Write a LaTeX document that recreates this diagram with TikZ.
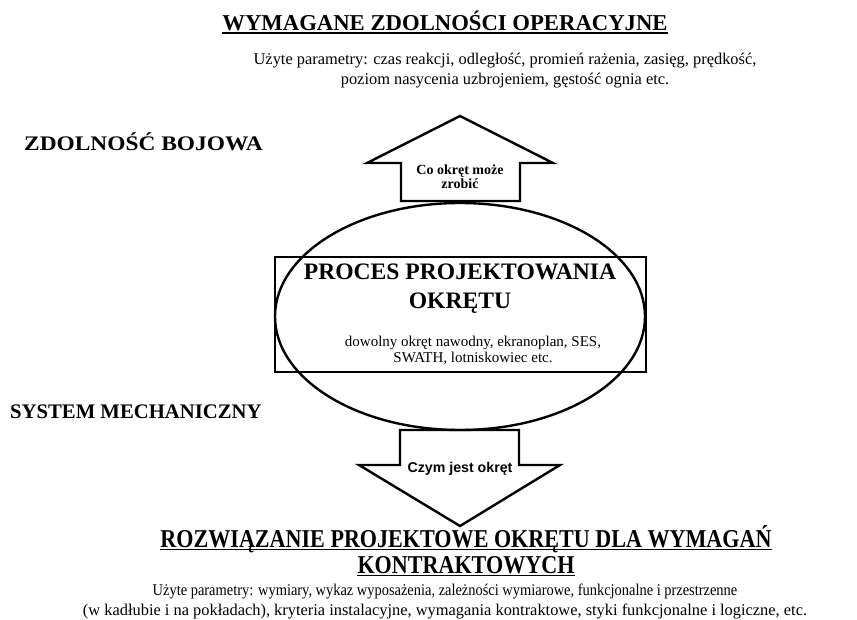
\documentclass[tikz,border=0pt]{standalone}
\usepackage{fontspec}
\setmainfont{Liberation Serif}
\newfontfamily\arialf{Liberation Sans}
\usetikzlibrary{shapes.geometric}
\begin{document}
\begin{tikzpicture}[x=1pt,y=-1pt,
  shape line/.style={line width=2.4pt, line join=miter},
  under line/.style={line width=1.3pt},
  big title/.style={font=\fontsize{22.7}{27}\selectfont\bfseries, anchor=base, inner sep=0pt},
  bottom title/.style={font=\fontsize{25.7}{27}\selectfont\bfseries, anchor=base, inner sep=0pt},
  side title/.style={font=\fontsize{20.7}{22}\selectfont\bfseries, anchor=base west, inner sep=0pt},
  small text/.style={font=\fontsize{16.4}{20}\selectfont, align=center},
  arrow label/.style={font=\fontsize{14}{14.5}\selectfont\bfseries, align=center}]
\useasboundingbox (0,0) rectangle (857,619);
% frame shapes
\node[draw, shape line, minimum width=371pt, minimum height=115pt, inner sep=0pt] (box) at (460.5,314.5) {};
\node[draw, shape line, ellipse, minimum width=370pt, minimum height=227pt, inner sep=0pt] (ell) at (460,316.5) {};
% up arrow
\draw[shape line] (401,201) -- (401,163) -- (367,163) -- (460,116) -- (553,163) -- (520,163) -- (520,201) -- cycle;
% down arrow
\draw[shape line] (400,430) -- (519,430) -- (519,465) -- (560,465) -- (460,526) -- (359,465) -- (400,465) -- cycle;
% texts
\node[big title] (t1) at (445,30) {WYMAGANE ZDOLNOŚCI OPERACYJNE};
\draw[under line] ([yshift=-3pt]t1.base west) -- ([yshift=-3pt]t1.base east);
\node[small text] (p1) at (505,71) {Użyte parametry: czas reakcji, odległość, promień rażenia, zasięg, prędkość,\\poziom nasycenia uzbrojeniem, gęstość ognia etc.};
\node[side title] (zb) at (24,150) {\scalebox{1.13}[1]{ZDOLNOŚĆ BOJOWA}};
\node[side title] (sm) at (10,418) {SYSTEM MECHANICZNY};
\node[arrow label] (up) at (460,176.5) {Co okręt może\\zrobić};
\node[font=\arialf\fontsize{14.2}{16}\selectfont\bfseries] (dn) at (460,469) {Czym jest okręt};
\node[font=\fontsize{23.6}{29}\selectfont\bfseries, align=center] (proc) at (460,289) {PROCES PROJEKTOWANIA\\OKRĘTU};
\node[font=\fontsize{15}{16}\selectfont, align=center] (dow) at (473,350) {dowolny okręt nawodny, ekranoplan, SES,\\SWATH, lotniskowiec etc.};
\node[bottom title] (t2a) at (466,547) {\scalebox{0.86}[1]{ROZWIĄZANIE PROJEKTOWE OKRĘTU DLA WYMAGAŃ}};
\draw[under line] ([yshift=-2.5pt]t2a.base west) -- ([yshift=-2.5pt]t2a.base east);
\node[bottom title] (t2b) at (466,573) {\scalebox{0.86}[1]{KONTRAKTOWYCH}};
\draw[under line] ([yshift=-2.5pt]t2b.base west) -- ([yshift=-2.5pt]t2b.base east);
\node[small text] (p2) at (445,601.5) {\scalebox{0.88}[1]{Użyte parametry: wymiary, wykaz wyposażenia, zależności wymiarowe, funkcjonalne i przestrzenne}\\(w kadłubie i na pokładach), kryteria instalacyjne, wymagania kontraktowe, styki funkcjonalne i logiczne, etc.};
\end{tikzpicture}
\end{document}
